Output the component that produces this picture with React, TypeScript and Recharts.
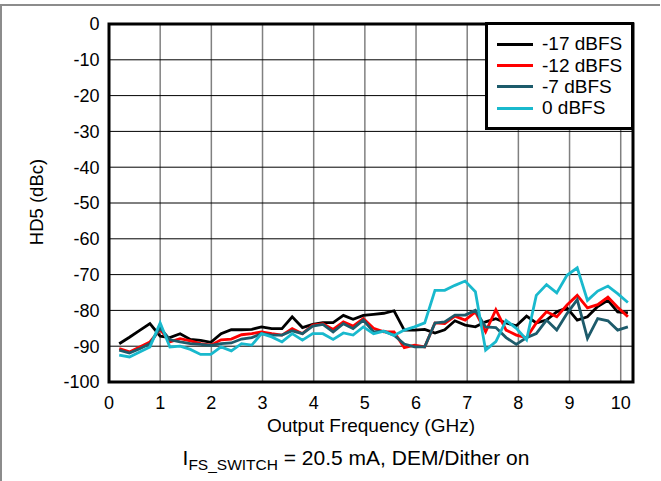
import { CartesianGrid, Legend, Line, LineChart, ReferenceArea, XAxis, YAxis } from 'recharts'

const freq = [
  0.2, 0.4, 0.6, 0.8, 1.0, 1.19, 1.39, 1.59, 1.79, 1.99,
  2.19, 2.39, 2.59, 2.79, 2.98, 3.18, 3.38, 3.58, 3.78, 3.98,
  4.18, 4.38, 4.58, 4.77, 4.97, 5.17, 5.37, 5.57, 5.77, 5.97,
  6.17, 6.37, 6.56, 6.76, 6.96, 7.16, 7.36, 7.56, 7.76, 7.96,
  8.16, 8.35, 8.55, 8.75, 8.95, 9.15, 9.35, 9.55, 9.75, 9.94,
  10.14,
]

const m17 = [
  -89.3, -87.5, -85.6, -83.7, -87.2, -87.6, -86.5, -88.1, -88.4, -88.9,
  -86.5, -85.4, -85.4, -85.3, -84.6, -85.1, -85.1, -81.8, -84.8, -83.9,
  -83.4, -83.4, -81.4, -82.5, -81.4, -81.1, -80.8, -80.1, -85.5, -85.5,
  -85.3, -86.3, -85.4, -82.9, -84.1, -84.6, -83.2, -82.3, -83.5, -84.3,
  -81.6, -83.5, -82.7, -80.4, -79.3, -82.7, -81.8, -78.9, -77.2, -80.4,
  -80.7,
]

const m12 = [
  -90.7, -91.6, -90.2, -88.8, -85.3, -88.8, -87.9, -88.5, -89.3, -89.7,
  -88.2, -88.0, -86.8, -86.5, -86.0, -86.5, -86.9, -85.1, -86.5, -84.1,
  -83.7, -85.3, -83.2, -84.4, -82.3, -85.0, -86.0, -86.0, -90.4, -89.7,
  -90.2, -83.5, -83.7, -81.6, -82.7, -80.4, -86.0, -79.8, -85.5, -86.9,
  -87.6, -83.5, -80.4, -81.8, -78.5, -75.8, -79.3, -78.4, -76.3, -79.1,
  -81.8,
]

const m7 = [
  -91.1, -91.9, -90.7, -89.3, -84.9, -88.2, -88.8, -89.3, -89.5, -89.8,
  -89.3, -89.1, -88.0, -87.6, -86.5, -86.9, -86.9, -85.7, -86.5, -84.4,
  -83.9, -86.0, -83.7, -85.1, -82.7, -86.0, -85.8, -86.9, -89.4, -90.2,
  -90.2, -83.5, -83.2, -81.3, -81.3, -80.0, -84.6, -84.8, -87.6, -89.5,
  -87.6, -86.5, -82.7, -85.5, -80.9, -77.0, -87.8, -82.3, -82.9, -85.5,
  -84.6,
]

const m0 = [
  -92.5, -93.0, -91.6, -90.2, -83.5, -90.2, -90.0, -90.9, -92.3, -92.3,
  -90.2, -91.3, -89.3, -89.7, -86.5, -87.4, -88.8, -86.5, -88.3, -86.5,
  -86.5, -88.1, -86.3, -86.9, -84.6, -86.5, -85.8, -87.0, -85.5, -84.6,
  -83.5, -74.4, -74.4, -73.0, -71.8, -74.8, -91.1, -88.7, -82.8, -85.0,
  -88.2, -75.8, -72.8, -75.1, -70.2, -68.1, -77.2, -74.6, -73.2, -75.3,
  -77.8,
]

const xTicks = [0, 1, 2, 3, 4, 5, 6, 7, 8, 9, 10]
const yTicks = [0, -10, -20, -30, -40, -50, -60, -70, -80, -90, -100]

const series = [
  { key: 'm17', name: '-17 dBFS', color: '#000000' },
  { key: 'm12', name: '-12 dBFS', color: '#ff0000' },
  { key: 'm7', name: '-7 dBFS', color: '#1d5b6b' },
  { key: 'm0', name: '0 dBFS', color: '#19b9cd' },
]

const rows = freq.map((f, i) => ({ f, m17: m17[i], m12: m12[i], m7: m7[i], m0: m0[i] }))

const FONT = '"Liberation Sans", Arial, sans-serif'

// keep the legend in the series order (recharts sorts its payload)
function LegendBox() {
  return (
    <div
      style={{
        position: 'relative',
        width: 149,
        height: 108,
        boxSizing: 'border-box',
        border: '3px solid #000',
        background: '#fff',
        fontFamily: FONT,
      }}
    >
      {series.map((s, i) => (
        <div key={s.key} style={{ position: 'absolute', left: 0, top: 19.3 + i * 21.3 - 11, height: 22, width: 142 }}>
          <span style={{ position: 'absolute', left: 9, top: 9.5, width: 36, height: 3, background: s.color }} />
          <span style={{ position: 'absolute', left: 54, top: 0, fontSize: 19, lineHeight: '22px', whiteSpace: 'nowrap' }}>
            {s.name}
          </span>
        </div>
      ))}
    </div>
  )
}

export default function App() {
  return (
    <div style={{ position: 'absolute', left: 0, top: 0, width: 661, height: 481, background: '#fff', overflow: 'hidden', fontFamily: FONT }}>
      <div
        style={{
          position: 'absolute',
          left: 0,
          top: 4,
          width: 658,
          height: 500,
          borderTop: '2px solid #8c8c8c',
          borderLeft: '2px solid #8c8c8c',
        }}
      />
      <LineChart width={661} height={481} data={rows} margin={{ top: 24, right: 28, left: 48, bottom: 69 }}>
        <CartesianGrid horizontal={false} stroke="#808080" strokeWidth={1.5} />
        <CartesianGrid vertical={false} stroke="#000" strokeWidth={1} />
        <XAxis
          dataKey="f"
          type="number"
          domain={[0, 10.24]}
          ticks={xTicks}
          allowDataOverflow
          axisLine={false}
          tickLine={false}
          tickSize={0}
          tickMargin={14.5}
          height={30}
          tick={{ fill: '#000', fontSize: 18, fontFamily: FONT }}
        />
        <YAxis
          type="number"
          domain={[-100, 0]}
          ticks={yTicks}
          axisLine={false}
          tickLine={false}
          tickSize={0}
          tickMargin={9.5}
          width={61}
          tick={{ fill: '#000', fontSize: 18, fontFamily: FONT }}
        />
        {series.map((s) => (
          <Line
            key={s.key}
            dataKey={s.key}
            name={s.name}
            stroke={s.color}
            strokeWidth={2.8}
            dot={false}
            activeDot={false}
            isAnimationActive={false}
            strokeLinejoin="miter"
          />
        ))}
        <ReferenceArea x1={0} x2={10.24} y1={-100} y2={0} fill="none" stroke="#000" strokeWidth={3} ifOverflow="visible" />
        <Legend
          layout="vertical"
          align="center"
          verticalAlign="middle"
          wrapperStyle={{ position: 'absolute', left: 485, top: 22, width: 149, height: 108 }}
          content={<LegendBox />}
        />
      </LineChart>
      <div
        style={{
          position: 'absolute',
          left: 37 - 70,
          top: 202 - 11,
          width: 140,
          height: 22,
          lineHeight: '22px',
          textAlign: 'center',
          fontSize: 18.5,
          transform: 'rotate(-90deg)',
          whiteSpace: 'nowrap',
        }}
      >
        HD5 (dBc)
      </div>
      <div
        style={{
          position: 'absolute',
          left: 371 - 150,
          top: 415.5,
          width: 300,
          lineHeight: '19px',
          textAlign: 'center',
          fontSize: 19,
          whiteSpace: 'nowrap',
        }}
      >
        Output Frequency (GHz)
      </div>
      <div
        style={{
          position: 'absolute',
          left: 356 - 220,
          top: 446.5,
          width: 440,
          lineHeight: '21px',
          textAlign: 'center',
          fontSize: 21,
          whiteSpace: 'nowrap',
        }}
      >
        I<span style={{ fontSize: 15.5, position: 'relative', top: 5 }}>FS_SWITCH</span> = 20.5 mA, DEM/Dither on
      </div>
    </div>
  )
}
